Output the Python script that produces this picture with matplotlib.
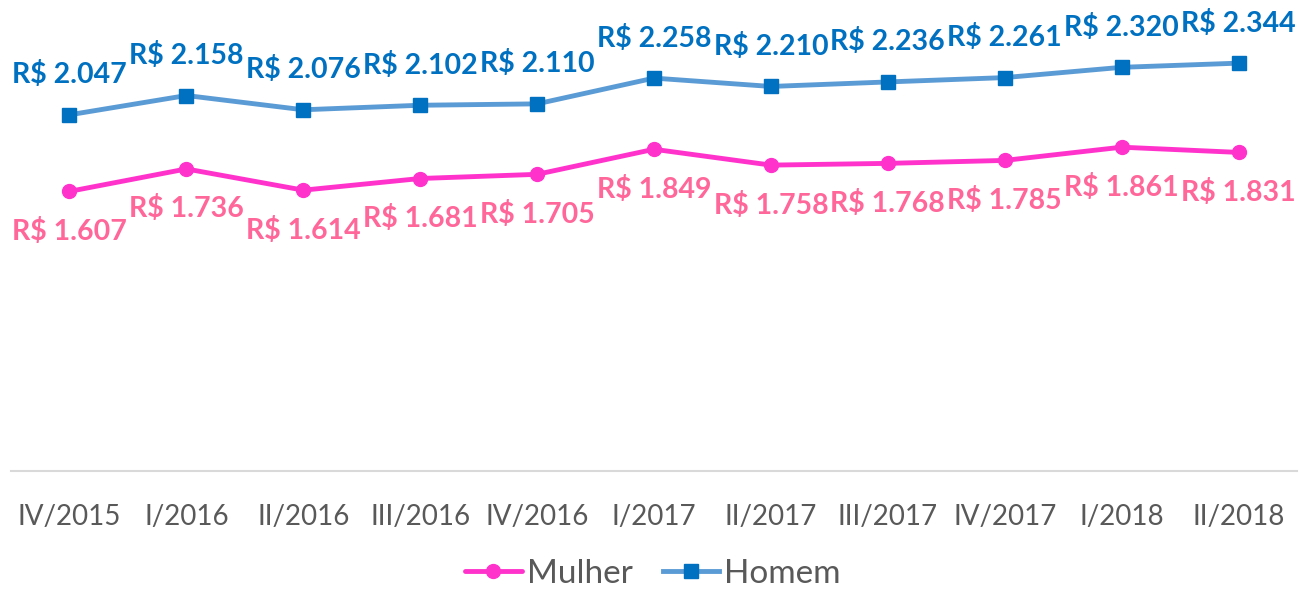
import matplotlib
matplotlib.use("Agg")
import matplotlib.pyplot as plt

categories = ["IV/2015", "I/2016", "II/2016", "III/2016", "IV/2016", "I/2017",
              "II/2017", "III/2017", "IV/2017", "I/2018", "II/2018"]
mulher = [1607, 1736, 1614, 1681, 1705, 1849, 1758, 1768, 1785, 1861, 1831]
homem = [2047, 2158, 2076, 2102, 2110, 2258, 2210, 2236, 2261, 2320, 2344]

def fmt(v):
    return "R$ {:,}".format(v).replace(",", ".")

fig = plt.figure(figsize=(13.06, 5.90), dpi=100)
ax = fig.add_axes([11/1306, (590-471)/590, (1297-11)/1306, (471-36)/590])
x = list(range(len(categories)))

ax.plot(x, mulher, color="#FF33CC", lw=3.5, marker="o", ms=10,
        mfc="#FF33CC", mec="#FF33CC", label="Mulher", solid_capstyle="round")
ax.plot(x, homem, color="#5B9BD5", lw=3.5, marker="s", ms=9.5,
        mfc="#0070C0", mec="#0070C0", label="Homem")

lab_font = dict(family=["Lato", "DejaVu Sans"], fontsize=20.5, fontweight="bold")
for xi, v in zip(x, homem):
    ax.annotate(fmt(v), (xi, v), xytext=(0, 40), textcoords="offset pixels",
                ha="center", va="center", color="#0070C0", **lab_font)
for xi, v in zip(x, mulher):
    ax.annotate(fmt(v), (xi, v), xytext=(0, -40), textcoords="offset pixels",
                ha="center", va="center", color="#FF6699", **lab_font)

ax.set_xlim(-0.5, len(categories) - 0.5)
ax.set_ylim(0, 2500)
ax.set_yticks([])
ax.set_xticks(x)
ax.set_xticklabels(categories, family=["Lato", "DejaVu Sans"], fontsize=20, color="#595959")
ax.tick_params(axis="x", length=0, pad=24)
for s in ["top", "right", "left"]:
    ax.spines[s].set_visible(False)
ax.spines["bottom"].set_color("#D9D9D9")
ax.spines["bottom"].set_linewidth(1.5)

leg = fig.legend(loc="center", bbox_to_anchor=(0.5, 1 - 574/590), ncol=2, frameon=False,
                 prop=dict(family=["Lato", "DejaVu Sans"], size=24), handlelength=1.7,
                 handletextpad=0.15, columnspacing=0.9, labelcolor="#595959",
                 borderpad=0.2)

fig.savefig("out.png", dpi=100, facecolor="white")
